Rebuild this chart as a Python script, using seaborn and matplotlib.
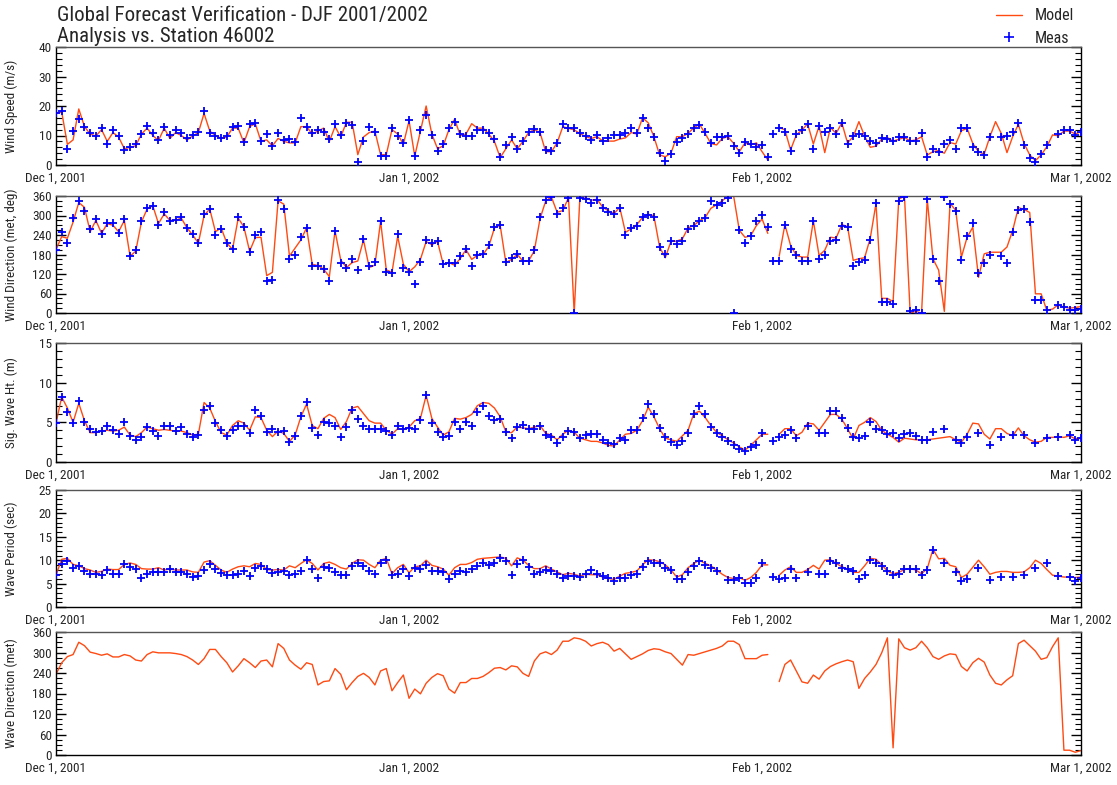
import numpy as np
import pandas as pd
import matplotlib
matplotlib.use("Agg")
import matplotlib.pyplot as plt
import matplotlib.dates as mdates
from matplotlib.ticker import MultipleLocator
from matplotlib.lines import Line2D
from matplotlib import font_manager as fm
import seaborn as sns

nan = np.nan

TITLE_1 = "Global Forecast Verification - DJF 2001/2002"
TITLE_2 = "Analysis vs. Station 46002"
XTICK_DATES = ["2001-12-01", "2002-01-01", "2002-02-01", "2002-03-01"]
XTICK_LABELS = ["Dec 1, 2001", "Jan 1, 2002", "Feb 1, 2002", "Mar 1, 2002"]
YLABELS = ["Wind Speed (m/s)", "Wind Direction (met, deg)", "Sig. Wave Ht. (m)",
           "Wave Period (sec)", "Wave Direction (met)"]

# 12-hourly values, 2001-12-01 00Z .. 2002-03-01 00Z (181 values)
WS_MEAS = [
    17.5, 18.3, 5.3, 11.5, 15.5, 13, 11, 10, 12.5, 7,
    11.7, 9.9, 5, 6.2, 7.1, 10.4, 13.2, 10.7, 8.5, 13,
    10.1, 12, 10.7, 9, 10.1, 11.3, 18.4, 10.7, 9.9, 9,
    10, 13, 13.3, 7.9, 13.9, 14.4, 8.2, 10.5, 6.5, 11,
    8.5, 8.8, 7.8, 15.8, 13, 10.9, 11.8, 11.3, 8.9, 13.9,
    10.1, 14.4, 13.7, 0.9, 8.1, 13, 11.3, 3, 3, 12.7,
    9.9, 7.3, 15.4, 3, 12, 17.1, 10.1, 4.7, 7.2, 12.4,
    14.6, 10.4, 9.7, 9.7, 11.8, 11.8, 10.7, 8.8, 2.6, 6.8,
    9.6, 5.4, 8.2, 11.3, 12.2, 11.3, 5.1, 4.7, 7.6, 14,
    12.4, 12.4, 10.7, 10, 8.5, 10.1, 8.2, 9.2, 10.1, 10.1,
    10.7, 12.6, 10.7, 16, 12.7, 9.4, 4.2, 1.5, 3.7, 7.9,
    9.2, 10.5, 12.7, 13.5, 11.3, 7.3, 9.6, 9.6, 9.8, 6.5,
    4, 7.8, 7.1, 6.2, 6.8, 2.8, 10.4, 12.7, 11.3, 4.8,
    10.4, 12, 13.9, 5.3, 13.2, 11.3, 12.7, 10.4, 14.3, 7.1,
    9.8, 10.6, 9.9, 8.2, 7.5, 9.2, 8.7, 8.1, 9.6, 9.4,
    8.2, 8.1, 10.7, 2.6, 5.3, 4.3, 7, 8.5, 5.3, 12.7,
    12.7, 6.2, 4.5, 3.4, 9.6, nan, 9.6, 9.9, 11.3, 14.1,
    6.8, 2.5, 1.1, 3.7, 6.8, nan, 10.5, 12, 11.8, 10.1,
    11.3]
WS_MODEL = [
    17.5, 18, 7, 8.5, 19, 13, 10.5, 9.8, 12, 8,
    11, 9.5, 5.5, 6, 6.5, 10.5, 12.5, 10, 8.3, 12.5,
    9, 11, 10, 8.5, 9.8, 11, 17.5, 11.5, 10, 9,
    9.5, 12.5, 12.5, 7.5, 13, 14, 8, 8.5, 6.5, 9,
    8, 7.5, 7.5, 13, 13, 10.5, 11.5, 12.5, 8, 13,
    9.5, 14.5, 14.5, 3.5, 9.5, 11, 11.5, 3.5, 3.5, 12,
    10.5, 7, 15, 3, 11.5, 20, 10.5, 5.5, 6.5, 12,
    15.5, 10, 10.5, 14, 12.5, 12.5, 10.5, 8, 2.5, 5.5,
    8.5, 5.5, 8, 11, 12, 11, 4.5, 4.5, 7.5, 13,
    12.4, 11.9, 10.7, 9.6, 9, 9.6, 8.2, 8.1, 8.1, 8.8,
    9.2, 11, 10.5, 16, 14.3, 9.6, 3.4, 2.8, 4, 9.6,
    9.6, 10.7, 12.6, 13.8, 10.7, 7.3, 6.8, 9, 9.6, 7.3,
    4.5, 7.5, 6.8, 7.5, 4.5, 1.7, nan, 12.8, 11.9, 5.1,
    10.2, 11.9, 13.9, 7.1, 13.2, 4.2, 12.7, 10.7, 14.3, 7.5,
    9.6, 14.7, 9.8, 6, 6.4, 8.8, 9.3, 8.1, 8.7, 9.3,
    8.2, 8.5, 9.6, 3.4, 4.5, 4.9, 4, 7.6, 7.1, 11.6,
    12.4, 7.3, 4.5, 3.7, 9.6, 14.7, 10.7, 4.2, 9.6, 13.8,
    7.3, 3.4, 1.5, 3.4, 6.2, 10.2, 9.9, 11.5, 11.5, 10.5,
    11.3]

WD_MEAS = [
    193, 248, 215, 291, 345, 314, 257, 289, 243, 278,
    276, 245, 289, 174, 193, 284, 322, 330, 271, 311,
    282, 286, 294, 262, 243, 215, 304, 319, 241, 259,
    215, 196, 296, 264, 188, 241, 250, 98, 101, 348,
    321, 167, 180, 233, 262, 144, 144, 134, 99, 253,
    155, 139, 165, 132, 228, 145, 157, 282, 125, 122,
    243, 137, 127, 88, 157, 225, 216, 223, 152, 155,
    155, 174, 196, 144, 179, 183, 208, 264, 272, 157,
    170, 183, 160, 160, 193, 294, 347, 356, 306, 322,
    355, 0, 353, 350, 340, 348, 324, 312, 304, 322,
    240, 262, 267, 294, 302, 296, 203, 183, 223, 213,
    223, 257, 267, 282, 291, 345, 333, 340, 353, 0,
    254, 215, 236, 282, 301, 264, 159, 159, 272, 196,
    177, 159, 160, 284, 167, 180, 223, 225, 269, 266,
    145, 157, 164, 226, 337, 33, 35, 27, 345, 358,
    5, 10, 0, 352, 167, 99, 357, 335, 314, 164,
    236, 277, 122, 155, 179, nan, 174, 155, 250, 317,
    319, 281, 39, 39, 10, nan, 25, 20, 10, 10,
    12]
WD_MODEL = [
    195, 235, 230, 280, 340, 325, 250, 285, 245, 275,
    270, 250, 285, 175, 190, 280, 320, 330, 275, 305,
    285, 285, 292, 262, 240, 215, 300, 320, 250, 262,
    215, 196, 292, 265, 190, 232, 233, 115, 125, 345,
    335, 175, 200, 225, 262, 150, 146, 135, 112, 253,
    163, 140, 155, 160, 225, 140, 147, 282, 133, 125,
    236, 150, 127, 142, 165, 220, 210, 220, 150, 155,
    147, 168, 195, 165, 177, 180, 205, 262, 270, 155,
    165, 180, 160, 160, 192, 290, 345, 357, 310, 315,
    355, 0, 357, 353, 347, 350, 326, 314, 306, 325,
    248, 259, 272, 294, 304, 299, 203, 170, 221, 221,
    228, 262, 269, 284, 294, 322, 333, 345, 360, 360,
    254, 233, 238, 269, 289, 245, nan, 175, 272, 208,
    177, 172, 172, 284, 177, 193, 233, 231, 272, 266,
    162, 167, 170, 231, 337, 45, 45, 35, 350, 360,
    0, 5, 0, 350, 167, 132, 5, 337, 316, 172,
    233, 264, 110, 182, 187, 187, 187, 203, 254, 324,
    319, 309, 59, 59, 8, 12, 25, 18, 15, 17,
    20]

SWH_MEAS = [
    4.9, 8.2, 6.3, 4.9, 7.7, 5, 4.2, 3.8, 3.9, 4.6,
    4, 3.5, 5.1, 3.3, 2.8, 3.2, 4.4, 3.9, 3.3, 4.6,
    4.5, 3.9, 4.4, 3.5, 3.2, 3.4, 6.5, 7.1, 4.9, 4,
    3.3, 4, 4.6, 4.6, 3.7, 6.5, 5.8, 3.8, 4.1, 3.8,
    3.9, 2.5, 3.3, 5.8, 7.6, 4.3, 3.4, 5.1, 4.9, 4.6,
    3.1, 4.4, 6.5, 5.4, 4.6, 4.1, 4.2, 4.1, 3.9, 3.4,
    4.6, 4.1, 4.3, 4.2, 5.3, 8.4, 4.9, 3.8, 3.1, 3.3,
    5.1, 4.1, 5, 4.6, 6.3, 7.1, 5.8, 5.3, 5.4, 3.8,
    3, 4.4, 4.7, 4.1, 4.1, 4.6, 3.4, 3.1, 2.4, 3.1,
    3.9, 3.75, 3, 3.4, 3.5, 3.5, 2.8, 2.4, 2.3, 3,
    2.8, 4, 4, 5.6, 7.3, 6, 4.3, 3.1, 2.5, 2.1,
    2.6, 3.7, 6, 7.1, 6, 4.4, 3.6, 3.1, 2.6, 2.2,
    1.7, 1.4, 1.9, 2.2, 3.6, nan, 2.6, 3.2, 3.4, 4,
    3, nan, 4.5, nan, 3.7, 3.6, 6.4, 6.4, 5.6, 4.3,
    3.1, 3, 3.3, 5, 4.2, 4, 3.5, 3.6, 3, 3.5,
    3.7, 3.3, 2.8, 2.8, 3.75, nan, 4.2, nan, 2.8, 2.4,
    3.2, nan, 3.6, nan, 2.2, nan, 3.2, nan, 3.4, nan,
    3.4, nan, 2.4, nan, 3, nan, 3.2, nan, 3.4, 2.8,
    3]
SWH_MODEL = [
    4.9, 8.2, 6.8, 5, 7.4, 5.2, 3.7, 3.7, 3.9, 4,
    3.9, 4, 4.4, 3.4, 3.2, 3.7, 4.4, 4.2, 4, 4.1,
    4, 3.9, 3.9, 3.7, 3.4, 3.5, 7.5, 6.8, 5.1, 3.7,
    3.4, 4.6, 5.2, 4.9, 4, 5.7, 5.6, 4, 3.2, 3.9,
    3.6, 2.6, 3.4, 5.7, 7.3, 4.6, 4.2, 5.5, 6, 5.6,
    4.1, 5.1, 6.8, 7, 6.1, 5.2, 4.9, 4.9, 4, 3.5,
    4.2, 4.1, 4.4, 5.2, 5.5, 8.4, 5.5, 4.4, 3.4, 3.8,
    5.5, 5.4, 5.6, 6, 7.1, 7.5, 7.4, 6.8, 5.7, 3.8,
    3.7, 4.4, 4.3, 4.2, 4.4, 4.6, 3.6, 3.4, 2.8, 3.5,
    4, 3.75, 3, 2.8, 2.6, 2.6, 2.4, 2.1, 2, 2.8,
    3.5, 3.6, 4, 5.2, 6.9, 5.7, 4.2, 3, 2.8, 2.6,
    3.3, 4, 6.1, 6.4, 5.6, 4.6, 3.75, 3.3, 2.8, 2.4,
    1.9, 1.5, 2.1, 2.8, 3.5, 3.5, nan, 3.5, 4.2, 4.2,
    3.3, 3.75, 4.9, 4.8, 4, 5, 6, 6, 5.4, 4.2,
    2.9, 4.6, 5, 5.6, 5.1, 4, 3.5, 3.1, 2.5, 3,
    2.9, 2.8, 2.8, 2.8, 2.9, 3, 3.1, 3.2, 2.8, 2.5,
    3.5, 4.9, 4.8, 3.5, 2.9, 4.2, 4.2, 3.6, 3.3, 4.3,
    3.3, 2.8, 2.5, 2.6, 3.1, 3.1, 3.2, 3.1, 3.3, 2.9,
    3]

WP_MEAS = [
    6.8, 9.1, 9.8, 8.4, 8.8, 7.6, 7.1, 7.1, 6.8, 7.9,
    7.1, 7.1, 9.1, 8.6, 8.2, 6.3, 7.1, 7.4, 7.4, 7.4,
    8.1, 7.4, 7.5, 7.1, 6.4, 6.6, 8, 9.1, 8.2, 7.3,
    6.8, 6.8, 7, 7.7, 6.6, 8.4, 8.8, 8.1, 7.3, 7.5,
    7.7, 6.8, 7.1, 7.7, 10, 8.1, 6.1, 8.6, 8.4, 7.4,
    6.8, 6.8, 8.8, 9.4, 8.8, 7.6, 7, 9.3, 10.1, 6.8,
    7.1, 8.2, 6.6, 8.4, 8.1, 8.9, 7.6, 7.7, 7.4, 5.9,
    7.1, 7.7, 7.5, 8.2, 8.8, 9.5, 8.9, 9.5, 10.4, 9.9,
    6.9, 9.1, 10, 8.6, 7.1, 7.5, 7.9, 7.6, 7, 6.1,
    6.6, 6.6, 6.4, 7, 7.9, 7, 6.6, 6.1, 5.6, 6.1,
    6.3, 6.9, 7.1, 8.6, 9.9, 9.3, 9.3, 8.4, 7.9, 5.9,
    5.9, 7.5, 8.8, 9.9, 9, 8.4, 7.7, nan, 5.7, 5.8,
    6.1, 5.2, 5.2, 6.3, 9.3, nan, 6.4, 5.9, 6.3, 8.1,
    6.3, nan, 7.5, nan, 7, 7, 9.9, 9.5, 8.4, 8.1,
    7.6, 5.9, 6.9, 10, 9.5, 8.8, 7.6, 6.9, 7, 8.1,
    8.2, 8.1, 6.8, 7.9, 12.1, nan, 9.5, nan, 7.5, 5.6,
    5.9, nan, 8.4, nan, 5.7, nan, 6.4, nan, 6.4, nan,
    6.9, nan, 8.3, nan, 9.3, nan, 6.6, nan, 6.4, 5.6,
    6.1]
WP_MODEL = [
    6.8, 10.2, 10.4, 9.1, 8.8, 8.2, 7.9, 7.4, 7.6, 8.1,
    8, 8, 9.1, 9.4, 9.1, 8.2, 8.1, 8.1, 8.4, 7.9,
    8.1, 7.9, 7.9, 7.9, 7.5, 7.4, 9.6, 9.9, 8.9, 7.9,
    7.4, 8.1, 8.6, 8.8, 8.6, 9.3, 9.1, 8, 7.9, 8,
    7.9, 8.8, 8.4, 9.3, 10.1, 9.3, 7.9, 9.3, 9.6, 9.1,
    8.4, 8.1, 9.3, 10.1, 10, 9.1, 8.4, 10, 10.4, 7.1,
    8.4, 9.1, 7.3, 8.6, 8.8, 10, 8.9, 8.6, 8.1, 6.8,
    8.4, 9.1, 9.1, 9.5, 10.2, 10.4, 10.5, 10.6, 10.7, 10.4,
    8.8, 10.5, 10, 8.9, 8.2, 8.2, 8.8, 8.1, 7.5, 6.9,
    7.2, 7, 6.6, 7, 6.9, 6.9, 6.4, 6.1, 5.9, 6.6,
    7.2, 7.4, 7.7, 9, 10.1, 10, 9.7, 9, 7.9, 6.4,
    6.9, 8.4, 9.3, 10, 9.3, 8.8, 7.9, 7, 6.3, 6.1,
    6.3, 5.7, 6.3, 7.4, 9, 9, nan, 6.8, 7.9, 8.6,
    7.4, 7.4, 8, 8.9, 8.1, 10, 10.1, 9.3, 8.6, 8.1,
    7.4, 7.4, 8.8, 10.4, 10.2, 9, 7.7, 7.1, 7.4, 8,
    8.2, 7.9, 7.1, 8.2, 12.3, 10.3, 10.4, 8.9, 8.6, 6.3,
    7, 8.5, 10, 8.6, 7, 7.4, 7.6, 7.6, 7.4, 7.4,
    7.5, 8.4, 10, 9.3, 8, 6.8, 6.6, 6.4, 6.4, 6.3,
    6.4]

WVD_MODEL = [
    236, 270, 288, 294, 330, 320, 301, 297, 292, 296,
    287, 287, 294, 290, 278, 275, 294, 302, 299, 299,
    299, 297, 294, 288, 278, 265, 282, 309, 309, 288,
    270, 243, 261, 282, 270, 256, 275, 278, 258, 326,
    312, 278, 263, 251, 270, 265, 205, 215, 217, 253,
    236, 191, 212, 230, 239, 227, 205, 246, 253, 188,
    212, 234, 166, 193, 179, 210, 227, 238, 232, 193,
    181, 212, 212, 224, 224, 230, 241, 254, 256, 249,
    261, 258, 239, 230, 275, 296, 302, 294, 307, 333,
    333, 343, 340, 333, 319, 326, 330, 323, 304, 312,
    296, 280, 288, 296, 306, 311, 309, 302, 297, 280,
    263, 294, 292, 297, 302, 307, 312, 319, 333, 333,
    323, 282, 282, 282, 292, 294, nan, 215, 265, 278,
    246, 214, 210, 234, 222, 246, 259, 267, 273, 278,
    273, 195, 224, 243, 265, 299, 343, 21, 340, 314,
    307, 314, 333, 314, 288, 280, 290, 296, 294, 259,
    246, 270, 283, 272, 234, 210, 205, 220, 232, 326,
    336, 320, 304, 280, 285, 317, 343, 14, 14, 8,
    13]
WVD_MEAS = [nan] * 181  # no station observations shown

MODEL_COLOR = "#ff4a12"
MEAS_COLOR = "#0000ff"


def find_family(names):
    for n in names:
        try:
            path = fm.findfont(fm.FontProperties(family=n), fallback_to_default=False)
            if path:
                return n
        except Exception:
            pass
    return None


sns.set_theme(style="white")
narrow = find_family(["Liberation Sans Narrow", "Roboto Condensed", "Arial Narrow",
                      "Open Sans Condensed", "Nimbus Sans Narrow"])
if narrow:
    plt.rcParams["font.family"] = [narrow, "Liberation Sans", "DejaVu Sans"]
    FS_TICK, FS_YLAB, FS_TITLE, FS_LEG = 9.5, 9.5, 15, 11.5
else:
    plt.rcParams["font.family"] = ["Liberation Sans", "DejaVu Sans"]
    FS_TICK, FS_YLAB, FS_TITLE, FS_LEG = 8.5, 8.8, 13, 10.5

times = pd.date_range("2001-12-01", "2002-03-01", freq="12h")
x0, x1 = pd.Timestamp(XTICK_DATES[0]), pd.Timestamp(XTICK_DATES[-1])

fig = plt.figure(figsize=(11.17, 7.85), dpi=100)
W, H = 1117.0, 785.0
left_px, right_px = 56, 1081
panels_px = [(47, 165), (196, 313), (343, 462), (490, 607), (632, 755)]

specs = [
    (WS_MODEL, WS_MEAS, (0, 40), 10, 2),
    (WD_MODEL, WD_MEAS, (0, 360), 60, 15),
    (SWH_MODEL, SWH_MEAS, (0, 15), 5, 1),
    (WP_MODEL, WP_MEAS, (0, 25), 5, 1),
    (WVD_MODEL, WVD_MEAS, (0, 360), 60, 15),
]

for i, ((top, bot), (model, meas, ylim, major, minor)) in enumerate(zip(panels_px, specs)):
    ax = fig.add_axes([left_px / W, 1 - bot / H, (right_px - left_px) / W, (bot - top) / H])
    df = pd.DataFrame({"time": times, "val": model})
    df["seg"] = df["val"].isna().cumsum()
    df = df.dropna()
    sns.lineplot(data=df, x="time", y="val", units="seg", estimator=None,
                 color=MODEL_COLOR, linewidth=1.0, ax=ax, legend=False)
    dm = pd.DataFrame({"time": times, "val": meas}).dropna()
    if len(dm):
        sns.scatterplot(data=dm, x="time", y="val", marker="+", color=MEAS_COLOR,
                        s=40, linewidth=1.3, ax=ax, legend=False, zorder=3)
    ax.set_xlim(x0, x1)
    ax.set_ylim(*ylim)
    ax.set_xticks(pd.to_datetime(XTICK_DATES))
    ax.set_xticklabels(XTICK_LABELS)
    ax.xaxis.set_minor_locator(mdates.DayLocator())
    ax.yaxis.set_major_locator(MultipleLocator(major))
    ax.yaxis.set_minor_locator(MultipleLocator(minor))
    ax.tick_params(axis="x", which="major", direction="in", length=10, width=1.0,
                   color="black", pad=5, labelsize=FS_TICK)
    ax.tick_params(axis="x", which="minor", direction="in", length=4, width=0.8, color="black")
    ax.tick_params(axis="y", which="major", direction="in", length=7, width=1.0,
                   left=True, right=True, color="black", pad=3, labelsize=FS_TICK)
    ax.tick_params(axis="y", which="minor", direction="in", length=4, width=0.8,
                   left=True, right=True, color="black")
    for s in ax.spines.values():
        s.set_color("black")
        s.set_linewidth(1.0)
    ax.spines["top"].set_color("#555555")
    ax.set_xlabel("")
    ax.set_ylabel(YLABELS[i], fontsize=FS_YLAB)
    ax.yaxis.set_label_coords(-0.037, 0.5)
    ax.set_facecolor("white")

fig.text(57 / W, 1 - 16 / H, TITLE_1, fontsize=FS_TITLE, va="center", ha="left")
fig.text(57 / W, 1 - 37 / H, TITLE_2, fontsize=FS_TITLE, va="center", ha="left")

handles = [Line2D([], [], color=MODEL_COLOR, lw=1.0),
           Line2D([], [], color=MEAS_COLOR, lw=0, marker="+", markersize=7, markeredgewidth=1.2)]
fig.legend(handles, ["Model", "Meas"], loc="upper right", bbox_to_anchor=(1080 / W, 1 - 2 / H),
           borderaxespad=0, frameon=False, fontsize=FS_LEG, handlelength=1.6,
           labelspacing=0.45, handletextpad=0.8)

fig.savefig("out.png", dpi=100)
